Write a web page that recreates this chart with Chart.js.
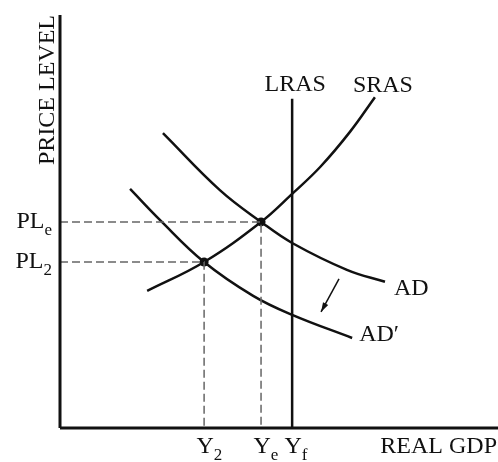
<!doctype html>
<html>
    <head>
        <title>AD / AS</title>
        <script src="https://cdn.jsdelivr.net/npm/chart.js@4.4.0/dist/chart.umd.min.js"></script>
        <style>
            body { margin: 0; background: #fff; overflow: hidden; }
            canvas { display: block; }
        </style>
    </head>
    <body>
        <canvas id="adasChart" width="498" height="462"></canvas>

        <script>
            // curves (x = real GDP, y = price level, both 0..100)
            var srasX = [19.9, 32.9, 45.9, 53.0, 59.4, 66.2, 71.9];
            var srasY = [33.2, 40.2, 49.9, 56.7, 63.2, 71.7, 80.1];
            var adX   = [23.5, 36.5, 45.9, 53.0, 65.5, 74.2];
            var adY   = [71.4, 57.6, 49.9, 44.8, 38.3, 35.4];
            var ad2X  = [16.0, 22.8, 32.9, 44.1, 53.0, 66.7];
            var ad2Y  = [57.9, 50.4, 40.2, 32.0, 27.4, 21.8];

            // long run supply at Yf
            var lrasX = [53.0, 53.0];
            var lrasY = [0, 79.7];

            // shift arrow
            var arrowX = [63.7, 59.6];
            var arrowY = [36.1, 28.1];

            // tick labels
            var xTickValues = [32.9, 45.9, 53.0];
            var xTickLabels = [['Y', '2'], ['Y', 'e'], ['Y', 'f']];
            var yTickValues = [49.9, 40.2];
            var yTickLabels = [['PL', 'e'], ['PL', '2']];

            var curveLabels = ['SRAS', 'AD', 'AD\u2032'];

            function pts(xs, ys) {
                var out = [];
                for (var i = 0; i < xs.length; i++) out.push({x: xs[i], y: ys[i]});
                return out;
            }

            var Ye = xTickValues[1], PLe = yTickValues[0];
            var Y2 = xTickValues[0], PL2 = yTickValues[1];

            var mainFont = '24px "Liberation Serif", "Times New Roman", serif';
            var subFont = '17px "Liberation Serif", "Times New Roman", serif';

            var labelPlugin = {
                id: 'labels',
                afterDraw: function(chart) {
                    var ctx = chart.ctx;
                    var xs = chart.scales.x, ys = chart.scales.y;
                    var area = chart.chartArea;
                    ctx.save();
                    ctx.fillStyle = '#111';
                    ctx.textBaseline = 'alphabetic';

                    // axis titles
                    ctx.font = mainFont;
                    ctx.save();
                    ctx.translate(area.left - 6, area.top);
                    ctx.rotate(-Math.PI / 2);
                    ctx.textAlign = 'right';
                    ctx.fillText('PRICE LEVEL', 0, 0);
                    ctx.restore();

                    ctx.textAlign = 'right';
                    ctx.fillText('REAL GDP', area.right - 1, area.bottom + 25);

                    // x tick labels
                    for (var i = 0; i < xTickValues.length; i++) {
                        var px = xs.getPixelForValue(xTickValues[i]);
                        ctx.font = mainFont;
                        ctx.textAlign = 'center';
                        ctx.fillText(xTickLabels[i][0], px + 1, area.bottom + 25);
                        var w = ctx.measureText(xTickLabels[i][0]).width;
                        ctx.font = subFont;
                        ctx.textAlign = 'left';
                        ctx.fillText(xTickLabels[i][1], px + 1 + w / 2, area.bottom + 32);
                    }

                    // y tick labels
                    for (var j = 0; j < yTickValues.length; j++) {
                        var py = ys.getPixelForValue(yTickValues[j]);
                        ctx.font = subFont;
                        var sw = ctx.measureText(yTickLabels[j][1]).width;
                        ctx.textAlign = 'right';
                        ctx.fillText(yTickLabels[j][1], area.left - 8, py + 13);
                        ctx.font = mainFont;
                        ctx.fillText(yTickLabels[j][0], area.left - 8 - sw, py + 6);
                    }

                    // curve labels
                    ctx.font = mainFont;
                    ctx.textAlign = 'center';
                    ctx.fillText('LRAS', xs.getPixelForValue(lrasX[1]) + 3, ys.getPixelForValue(lrasY[1]) - 8);
                    var n = srasX.length - 1;
                    ctx.fillText(curveLabels[0], xs.getPixelForValue(srasX[n]) + 8, ys.getPixelForValue(srasY[n]) - 5);
                    ctx.textAlign = 'left';
                    n = adX.length - 1;
                    ctx.fillText(curveLabels[1], xs.getPixelForValue(adX[n]) + 9, ys.getPixelForValue(adY[n]) + 13);
                    n = ad2X.length - 1;
                    ctx.fillText(curveLabels[2], xs.getPixelForValue(ad2X[n]) + 7, ys.getPixelForValue(ad2Y[n]) + 3);

                    // arrow head
                    var x0 = xs.getPixelForValue(arrowX[0]), y0 = ys.getPixelForValue(arrowY[0]);
                    var x1 = xs.getPixelForValue(arrowX[1]), y1 = ys.getPixelForValue(arrowY[1]);
                    var a = Math.atan2(y1 - y0, x1 - x0);
                    ctx.beginPath();
                    ctx.moveTo(x1, y1);
                    ctx.lineTo(x1 - 10 * Math.cos(a - 0.3), y1 - 10 * Math.sin(a - 0.3));
                    ctx.lineTo(x1 - 10 * Math.cos(a + 0.3), y1 - 10 * Math.sin(a + 0.3));
                    ctx.closePath();
                    ctx.fill();

                    ctx.restore();
                }
            };

            var black = '#111';
            var line = function(data, width, extra) {
                var ds = {
                    data: data,
                    showLine: true,
                    borderColor: black,
                    backgroundColor: black,
                    borderWidth: width,
                    pointRadius: 0,
                    clip: false,
                    fill: false
                };
                for (var k in extra) ds[k] = extra[k];
                return ds;
            };

            var ctx = document.getElementById('adasChart').getContext('2d');
            var chart = new Chart(ctx, {
                type: 'scatter',
                data: {
                    datasets: [
                        line(pts([0, 0], [100, 0]), 3),
                        line(pts([0, 100], [0, 0]), 3),
                        line(pts([0, Ye, Ye], [PLe, PLe, 0]), 1.5, {borderColor: '#666', borderDash: [8, 4]}),
                        line(pts([0, Y2, Y2], [PL2, PL2, 0]), 1.5, {borderColor: '#666', borderDash: [8, 4]}),
                        line(pts(lrasX, lrasY), 2.5),
                        line(pts(srasX, srasY), 2.5, {tension: 0.4}),
                        line(pts(adX, adY), 2.5, {tension: 0.4}),
                        line(pts(ad2X, ad2Y), 2.5, {tension: 0.4}),
                        line(pts(arrowX, arrowY), 1.5),
                        {
                            data: pts([Y2, Ye], [PL2, PLe]),
                            showLine: false,
                            pointRadius: 4.5,
                            pointBackgroundColor: black,
                            pointBorderWidth: 0,
                            clip: false
                        }
                    ]
                },
                options: {
                    responsive: false,
                    animation: false,
                    layout: { autoPadding: false, padding: { left: 60, top: 15, right: 0, bottom: 34 } },
                    plugins: { legend: { display: false }, tooltip: { enabled: false } },
                    scales: {
                        x: { type: 'linear', min: 0, max: 100, display: false },
                        y: { type: 'linear', min: 0, max: 100, display: false }
                    }
                },
                plugins: [labelPlugin]
            });
        </script>
    </body>
</html>
